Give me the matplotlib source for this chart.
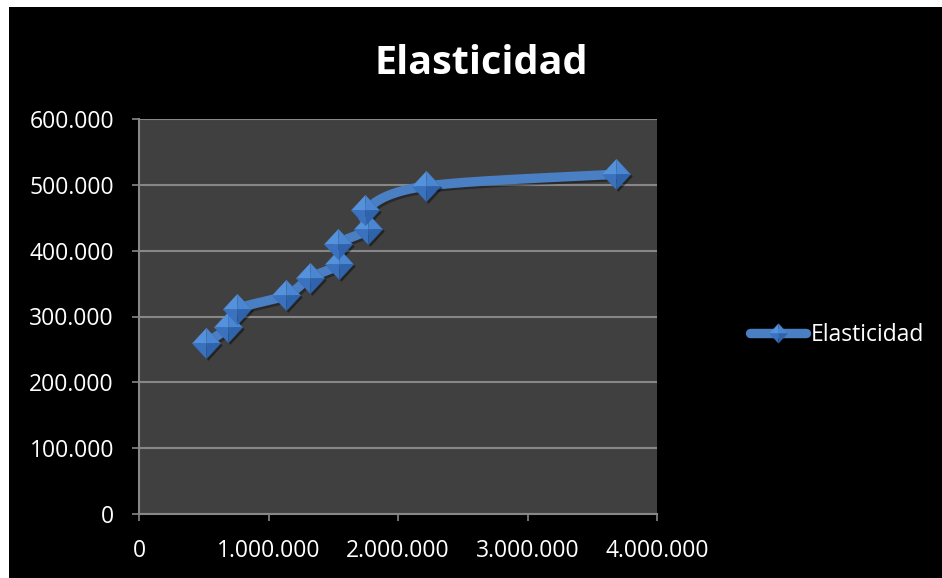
import numpy as np
import matplotlib
matplotlib.use("Agg")
import matplotlib.pyplot as plt
from matplotlib.patches import Rectangle
from matplotlib.ticker import FuncFormatter, MultipleLocator
from matplotlib.legend_handler import HandlerTuple
from matplotlib.lines import Line2D
import matplotlib.transforms as mtransforms
import matplotlib.patheffects as pe

plt.rcParams['font.family'] = ['Open Sans', 'DejaVu Sans']

# Series data
x_values = [520000, 690000, 757000, 1133000, 1321000, 1546000,
            1540000, 1770000, 1747000, 2217000, 3687000]
y_values = [260000, 284000, 311000, 332000, 359000, 380000,
            410000, 433000, 462000, 498000, 516000]
series_name = "Elasticidad"
chart_title = "Elasticidad"

W, H = 942, 578
fig = plt.figure(figsize=(W / 100, H / 100), dpi=100, facecolor="white")
# black chart area (small white margin on top/left)
fig.patches.append(Rectangle((9 / W, 0), 1 - 9 / W, 1 - 7 / H,
                             transform=fig.transFigure, facecolor="black",
                             edgecolor="none", zorder=-10))

ax = fig.add_axes([139 / W, 1 - 514 / H, (657 - 139) / W, (514 - 119) / H])
ax.set_facecolor("#404040")
ax.set_xlim(0, 4000000)
ax.set_ylim(0, 600000)
ax.xaxis.set_major_locator(MultipleLocator(1000000))
ax.yaxis.set_major_locator(MultipleLocator(100000))
fmt = FuncFormatter(lambda v, p: f"{int(round(v)):,}".replace(",", "."))
ax.xaxis.set_major_formatter(fmt)
ax.yaxis.set_major_formatter(fmt)

grid_col = "#878787"
ax.grid(axis="y", color=grid_col, linewidth=1.5)
ax.set_axisbelow(True)
for s in ("top", "right"):
    ax.spines[s].set_visible(False)
for s in ("left", "bottom"):
    ax.spines[s].set_color(grid_col)
    ax.spines[s].set_linewidth(1.5)
ax.tick_params(axis="both", colors=grid_col, length=5, width=1.2,
               labelcolor="white", labelsize=16.5, pad=13)


# Smoothed curve (Catmull-Rom style Bezier, computed in display space)
def smooth_curve(xs, ys, steps=40):
    pts = ax.transData.transform(np.column_stack([xs, ys]))
    n = len(pts)
    out = []
    for i in range(n - 1):
        p0 = pts[max(i - 1, 0)]
        p1 = pts[i]
        p2 = pts[i + 1]
        p3 = pts[min(i + 2, n - 1)]
        c1 = p1 + (p2 - p0) / 6.0
        c2 = p2 - (p3 - p1) / 6.0
        t = np.linspace(0, 1, steps)[:, None]
        seg = ((1 - t) ** 3 * p1 + 3 * (1 - t) ** 2 * t * c1
               + 3 * (1 - t) * t ** 2 * c2 + t ** 3 * p2)
        out.append(seg if i == 0 else seg[1:])
    out = np.vstack(out)
    data = ax.transData.inverted().transform(out)
    return data[:, 0], data[:, 1]


sx, sy = smooth_curve(np.array(x_values, float), np.array(y_values, float))
line_col = "#4a7fc4"
lw = 6.8
curve, = ax.plot(sx, sy, color=line_col, linewidth=lw, solid_capstyle="round",
                 zorder=3,
                 path_effects=[pe.SimpleLineShadow(offset=(1.5, -1.5), shadow_color="black", alpha=0.35),
                               pe.Normal()])

# Diamond markers built from four shaded facets
k = 1.08
facets = [
    ([(0, 0), (-1, 0), (0, k)], "#5592dc"),   # top-left
    ([(0, 0), (1, 0), (0, k)], "#4a86d2"),    # top-right
    ([(0, 0), (-1, 0), (0, -k)], "#3a72bf"),  # bottom-left
    ([(0, 0), (1, 0), (0, -k)], "#2f64ac"),   # bottom-right
]
ms = 22
# shadow
shadow_tr = ax.transData + mtransforms.ScaledTranslation(2 / 100, -2 / 100, fig.dpi_scale_trans)
ax.plot(x_values, y_values, linestyle="none",
        marker=[(-1, 0), (0, k), (1, 0), (0, -k)], markersize=ms,
        markerfacecolor="black", markeredgecolor="none", alpha=0.45, zorder=3.5,
        transform=shadow_tr)
for verts, col in facets:
    ax.plot(x_values, y_values, linestyle="none", marker=verts,
            markersize=ms, markerfacecolor=col, markeredgecolor=col,
            markeredgewidth=0.3, zorder=4)

# Legend proxies
leg_line = Line2D([], [], color=line_col, linewidth=lw, solid_capstyle="round")
leg_facets = [Line2D([], [], linestyle="none", marker=v, markersize=14,
                     markerfacecolor=c, markeredgecolor=c, markeredgewidth=0.3)
              for v, c in facets]
leg = fig.legend([tuple([leg_line] + leg_facets)], [series_name],
                 handler_map={tuple: HandlerTuple(ndivide=1, pad=0)},
                 loc="center left", bbox_to_anchor=(750 / W, 1 - 335 / H),
                 frameon=False, fontsize=16.5, handlelength=2.45,
                 handletextpad=0.2, borderpad=0, borderaxespad=0)
for t in leg.get_texts():
    t.set_color("white")

fig.text(481 / W, 1 - 74 / H, chart_title, ha="center", va="baseline",
         color="white", fontsize=28.5, fontweight="bold")

fig.savefig("out.png", dpi=100, facecolor=fig.get_facecolor())
